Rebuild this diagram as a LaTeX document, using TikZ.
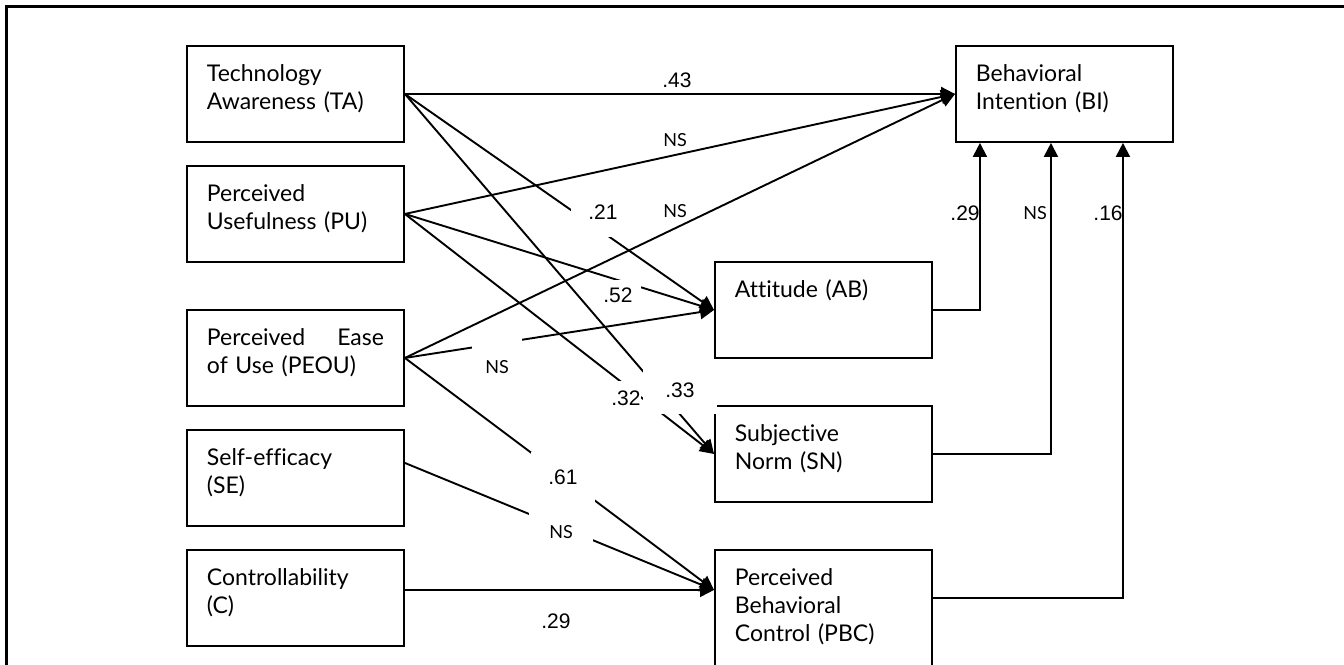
\documentclass[tikz,border=0pt]{standalone}
\usepackage{fontspec}
\setmainfont{Lato}[Ligatures=NoCommon]
\newfontfamily\numfont{Liberation Sans}
\usetikzlibrary{arrows.meta}

\begin{document}
\begin{tikzpicture}[x=1pt,y=-1pt,
    construct/.style={draw, line width=1.9pt, anchor=north west, inner xsep=20pt, inner ysep=0pt,
      text width=177pt, align=left, text height=36pt, text depth=60pt, font=\fontsize{23}{28}\selectfont},
    link/.style={line width=1.9pt, -{Triangle[length=14pt,width=14pt]}},
    coef/.style={inner sep=0pt, font=\numfont\fontsize{21}{24}\selectfont},
    ns/.style={inner sep=0pt, font=\fontsize{18}{22}\selectfont}]

            \useasboundingbox (0,0) rectangle (1344,664);
            \draw[line width=3pt] (6,700) -- (6,6) -- (1400,6);

            % Antecedents
            \node[construct] (ta) at (186,45) {Technology\\Awareness (TA)};
            \node[construct] (pu) at (186,165) {Perceived\\Usefulness (PU)};
            \node[construct] (peou) at (186,309) {Perceived\hfill Ease\\of Use (PEOU)};
            \node[construct] (se) at (186,429) {Self-efficacy\\(SE)};
            \node[construct] (c) at (186,549) {Controllability\\(C)};

            % Attitude, norm, control and intention
            \node[construct] (bi) at (955,45) {Behavioral\\Intention (BI)};
            \node[construct] (ab) at (714,261) {Attitude (AB)};
            \node[construct] (sn) at (714,405) {Subjective\\Norm (SN)};
            \node[construct, text depth=94pt] (pbc) at (714,549) {Perceived\\Behavioral\\Control (PBC)};
            \coordinate (pbcin) at ([yshift=25pt]pbc.west);

            % Paths
            \draw[link] (ta.east) -- (bi.west);
            \draw[link] (ta.east) -- (ab.west);
            \draw[link] (ta.east) -- (sn.west);
            \draw[link] (pu.east) -- (bi.west);
            \draw[link] (pu.east) -- (ab.west);
            \draw[link] (pu.east) -- (sn.west);
            \draw[link] (peou.east) -- (bi.west);
            \draw[link] (peou.east) -- (ab.west);
            \draw[link] (peou.east) -- (pbcin);
            \draw[link] ([yshift=15pt]se.east) -- (pbcin);
            \draw[link] ([yshift=8pt]c.east) -- (pbcin);
            \draw[link] (ab.east) -| ([xshift=-84.5pt]bi.south);
            \draw[link] (sn.east) -| ([xshift=-13.5pt]bi.south);
            \draw[link] ([yshift=17pt]pbc.east) -| ([xshift=58.5pt]bi.south);

            % Coefficients
            \node[coef] (l43) at (677,80) {.43};
            \node[coef, fill=white, minimum width=64pt, minimum height=50pt] (l21) at (603,212) {.21};
            \node[ns] (lpubi) at (675,140) {NS};
            \node[ns] (lpeoubi) at (675,211) {NS};
            \node[coef, fill=white, minimum width=46pt, minimum height=30pt] (l52) at (618,295) {.52};
            \node[ns, fill=white, minimum width=50pt, minimum height=58pt] (lpeouab) at (497,367) {NS};
            \node[coef, fill=white, minimum width=28pt, minimum height=35pt] (l32) at (626,398) {.32};
            \node[coef, fill=white, minimum width=74pt, minimum height=48pt] (l33) at (680,390) {.33};
            \node[coef, fill=white, minimum width=64pt, minimum height=50pt] (l61) at (563,477) {.61};
            \node[ns, fill=white, minimum width=64pt, minimum height=50pt] (lsepbc) at (561,532) {NS};
            \node[coef] (l29c) at (556,621) {.29};
            \node[coef] (l29ab) at (965,213) {.29};
            \node[ns] (lsnbi) at (1035,213) {NS};
            \node[coef] (l16) at (1108,213) {.16};

\end{tikzpicture}
\end{document}
